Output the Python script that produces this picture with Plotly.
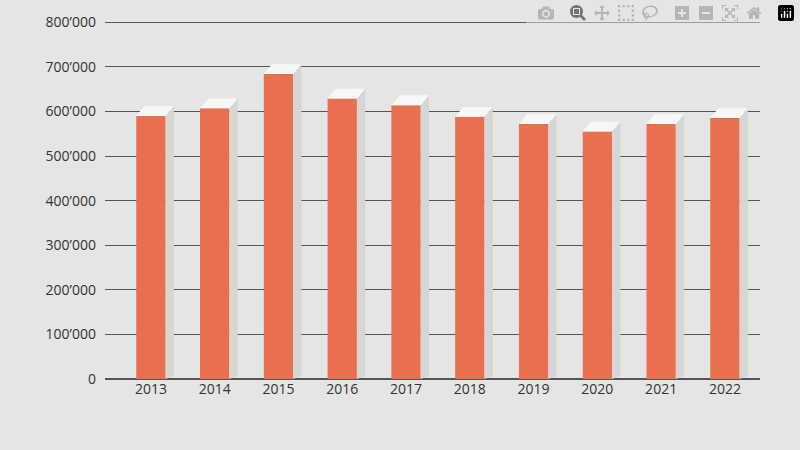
import plotly.graph_objects as go

years = ["2013","2014","2015","2016","2017","2018","2019","2020","2021","2022"]
values = [590000, 607000, 684000, 629000, 614000, 588000, 572000, 555000, 572000, 585000]
tick_vals = [0,100000,200000,300000,400000,500000,600000,700000,800000]
tick_text = ["0","100’000","200’000","300’000","400’000","500’000","600’000","700’000","800’000"]

xs = list(range(len(years)))
w = 0.46
dx, dy = 0.13, 22000

fig = go.Figure()
shapes = []
for x, v in zip(xs, values):
    l, r = x - w/2, x + w/2
    shapes.append(dict(type="path", xref="x", yref="y", layer="above",
        path=f"M {r},0 L {r+dx},{dy*0.3} L {r+dx},{v+dy} L {r},{v} Z",
        fillcolor="#d6d6d6", line=dict(width=0)))
    shapes.append(dict(type="path", xref="x", yref="y", layer="above",
        path=f"M {l},{v} L {l+dx},{v+dy} L {r+dx},{v+dy} L {r},{v} Z",
        fillcolor="#f7f7f7", line=dict(width=0)))
fig.add_bar(x=xs, y=values, width=w, marker=dict(color="#e8704f", line=dict(width=0)))
fig.update_layout(
    width=800, height=450, margin=dict(l=105, r=40, t=12, b=71),
    paper_bgcolor="#e5e5e5", plot_bgcolor="#e5e5e5", showlegend=False,
    font=dict(family="Open Sans", size=14, color="#333"),
    shapes=shapes,
    xaxis=dict(tickvals=xs, ticktext=years, range=[-0.72, 9.55], showgrid=False,
               zeroline=False, showline=False, ticks=""),
    yaxis=dict(tickvals=tick_vals, ticktext=tick_text, range=[0, 805000],
               gridcolor="#555", gridwidth=1, zeroline=True, zerolinecolor="#555",
               ticks="", ticklabelstandoff=8),
)
fig.write_html("out.html", post_script="document.body.style.margin='0';document.body.style.background='#e5e5e5';")
